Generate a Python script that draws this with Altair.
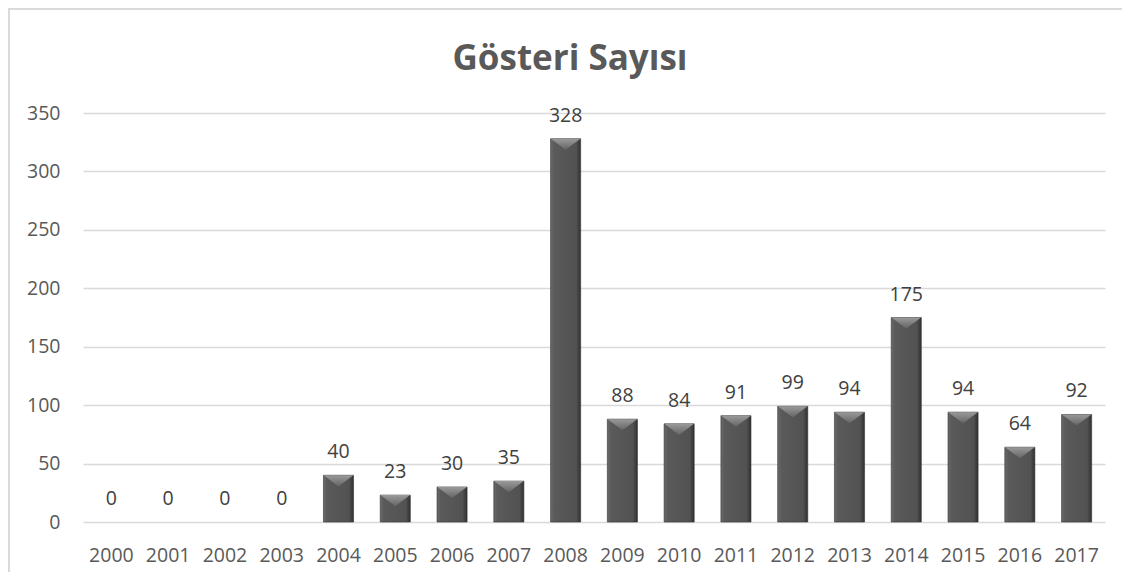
import altair as alt
import pandas as pd

years = ["2000", "2001", "2002", "2003", "2004", "2005", "2006", "2007", "2008",
         "2009", "2010", "2011", "2012", "2013", "2014", "2015", "2016", "2017"]
counts = [0, 0, 0, 0, 40, 23, 30, 35, 328, 88, 84, 91, 99, 94, 175, 94, 64, 92]
title_text = ["Gösteri Sayısı"]

df = pd.DataFrame({"year": years, "count": counts})

FONT = "Open Sans"
LBL = 19.5

x_enc = alt.X("year:N", sort=years, title=None,
              scale=alt.Scale(paddingInner=0.47, paddingOuter=0.235),
              axis=alt.Axis(labelAngle=0, ticks=False, domain=False, labelPadding=24,
                            labelFontSize=LBL, labelColor="#595959", labelFont=FONT))
y_enc = alt.Y("count:Q", title=None,
              scale=alt.Scale(domain=[0, 350], nice=False),
              axis=alt.Axis(values=[0, 50, 100, 150, 200, 250, 300, 350], ticks=False,
                            domain=False, labelPadding=23, labelFontSize=LBL,
                            labelColor="#595959", labelFont=FONT,
                            gridColor="#d9d9d9", gridWidth=1.4))

bar_fill = {
    "gradient": "linear", "x1": 0, "x2": 1, "y1": 0, "y2": 0,
    "stops": [
        {"offset": 0, "color": "#6a6a6a"},
        {"offset": 0.12, "color": "#5a5a5a"},
        {"offset": 0.85, "color": "#525252"},
        {"offset": 1, "color": "#303030"},
    ],
}
bev_fill = {
    "gradient": "linear", "x1": 0, "x2": 0, "y1": 0, "y2": 1,
    "stops": [
        {"offset": 0, "color": "#9a9a9a"},
        {"offset": 1, "color": "#646464"},
    ],
}

base = alt.Chart(df)
nonzero = base.transform_filter("datum.count > 0")

bars = nonzero.mark_bar(fill=bar_fill, stroke="#333333", strokeWidth=0.6).encode(x=x_enc, y=y_enc)

bevel = nonzero.mark_point(
    shape="M-1,0 L1,0 L0,0.75 Z", size=880, filled=True, fill=bev_fill, opacity=1,
    strokeWidth=0
).encode(x=alt.X("year:N", sort=years), y="count:Q")

labels = base.mark_text(dy=-17, baseline="alphabetic", fontSize=LBL, font=FONT,
                        color="#404040").encode(
    x=alt.X("year:N", sort=years), y="count:Q", text="count:Q")

title = alt.Chart(pd.DataFrame({"t": title_text})).mark_text(
    fontSize=35, font=FONT, fontWeight="bold", color="#595959",
    baseline="alphabetic", align="center"
).encode(x=alt.value(487), y=alt.value(-43), text="t:N")

border_top = alt.Chart(df).mark_rule(color="#d9d9d9", strokeWidth=1.2).encode(
    x=alt.value(-75), x2=alt.value(1039), y=alt.value(-104.4))
border_left = alt.Chart(df).mark_rule(color="#d9d9d9", strokeWidth=1.2).encode(
    x=alt.value(-74.4), y=alt.value(-105), y2=alt.value(464))

chart = alt.layer(bars, bevel, labels, title, border_top, border_left).properties(
    width=1022, height=409,
    autosize=alt.AutoSizeParams(type="none"),
    padding={"left": 75, "top": 105, "right": 17, "bottom": 50},
).configure_view(stroke=None)

chart.save("out.html", embed_options={"renderer": "svg", "actions": False})
